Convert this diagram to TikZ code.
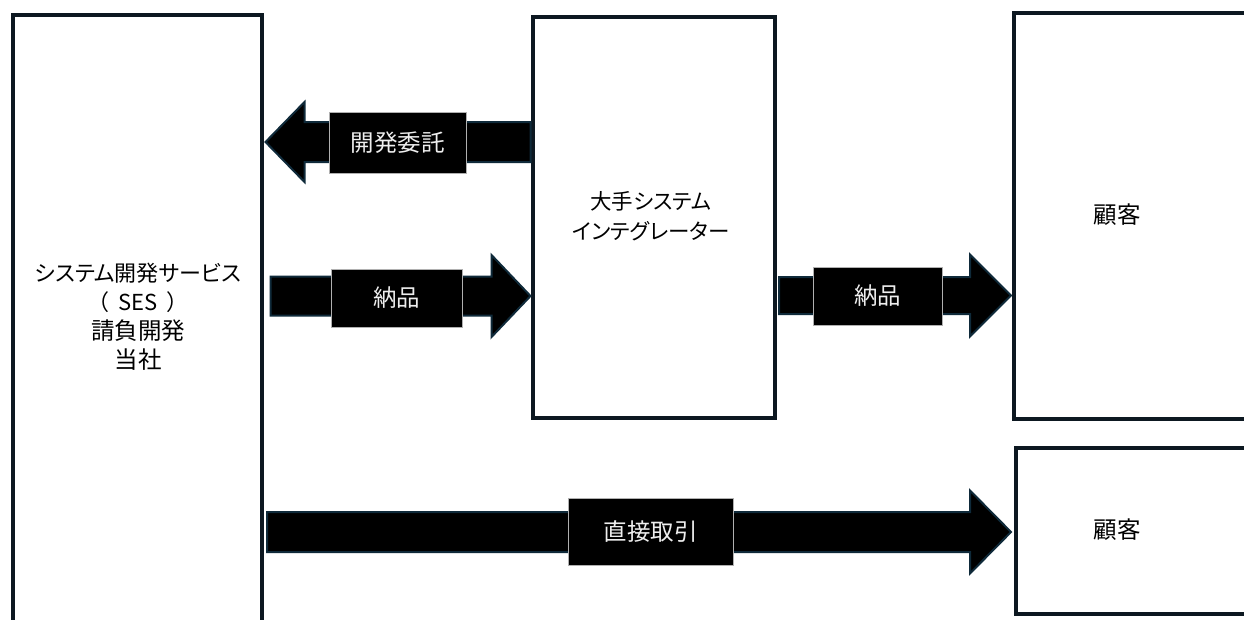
\documentclass[tikz,border=0pt]{standalone}
\usepackage{fontspec}
\setmainfont{Noto Sans CJK JP}[RawFeature=+palt]
\usetikzlibrary{calc}
\definecolor{boxline}{HTML}{0D1821}
\definecolor{arrowline}{HTML}{0F2A3A}
\definecolor{lblline}{HTML}{B0B0B0}
\definecolor{lbltext}{HTML}{EEEEEE}
\newcommand{\bigk}{\fontsize{23.5}{29}\selectfont}
\tikzset{
  box/.style={draw=boxline, line width=4pt, fill=white, inner sep=0pt},
  boxtext/.style={align=center, font=\fontsize{22}{29}\selectfont, text=black, inner sep=0pt},
  blockarrow/.style={draw=arrowline, line width=2pt, fill=black, line join=miter},
  lbl/.style={draw=lblline, line width=0.8pt, fill=black, text=lbltext, inner sep=0pt,
              font=\fontsize{23.5}{28}\selectfont}
}
\newcommand{\blockarr}[5]{% #1 start, #2 tip, #3 shaft half, #4 head half, #5 signed head length
  \draw[blockarrow] ($(#1)+(0,-#3)$) -- ($(#2)+(#5,-#3)$) -- ($(#2)+(#5,-#4)$) -- (#2)
     -- ($(#2)+(#5,#4)$) -- ($(#2)+(#5,#3)$) -- ($(#1)+(0,#3)$) -- cycle;}
\begin{document}
\begin{tikzpicture}[x=1pt,y=-1pt]
\clip (0,0) rectangle (1244,619);
\fill[white] (0,0) rectangle (1244,619);
% boxes
\node[box, anchor=north west, minimum width=249pt, minimum height=700pt] (sys) at (10.5,12.5) {};
\node[box, anchor=north west, minimum width=242pt, minimum height=401.5pt] (si) at (530.5,14.5) {};
\node[box, anchor=north west, minimum width=300pt, minimum height=406.5pt] (cust1) at (1012,10.5) {};
\node[box, anchor=north west, minimum width=300pt, minimum height=166.5pt] (cust2) at (1014,445.5) {};
% box texts
\node[boxtext] (systext) at (138,317) {システム開発サービス\\（\hspace{0.45em}SES\hspace{0.45em}）\\{\bigk 請負開発}\\{\bigk 当社}};
\node[boxtext, font=\fontsize{21.5}{30}\selectfont] (sitext) at (651,216.5) {大手システム\\インテグレーター};
\node[boxtext, font=\bigk] (c1text) at (1117,215) {顧客};
\node[boxtext, font=\bigk] (c2text) at (1117,530) {顧客};
% row coordinates
\coordinate (r1) at (0,142);
\coordinate (r2) at (0,296);
\coordinate (r3) at (0,295.5);
\coordinate (r4) at (0,532);
% arrow 1: 開発委託 (leftwards)
\coordinate (a1s) at (si.west |- r1);
\coordinate (a1t) at ($(sys.east |- r1)+(2,0)$);
\blockarr{a1s}{a1t}{20}{40}{39}
% arrow 2: 納品
\coordinate (a2s) at ($(sys.east |- r2)+(7,0)$);
\coordinate (a2t) at (si.west |- r2);
\blockarr{a2s}{a2t}{19.5}{41}{-39}
% arrow 3: 納品
\coordinate (a3s) at ($(si.east |- r3)+(2.5,0)$);
\coordinate (a3t) at ($(cust1.west |- r3)+(-1,0)$);
\blockarr{a3s}{a3t}{18.5}{41}{-41}
% arrow 4: 直接取引
\coordinate (a4s) at ($(sys.east |- r4)+(3.5,0)$);
\coordinate (a4t) at ($(cust2.west |- r4)+(-3,0)$);
\blockarr{a4s}{a4t}{20}{41.5}{-41}
% labels
\node[lbl, minimum width=137pt, minimum height=61pt] (l1) at (397.5,142.5) {開発委託};
\node[lbl, minimum width=131pt, minimum height=58pt] (l2) at (396.5,298) {納品};
\node[lbl, minimum width=129pt, minimum height=58pt] (l3) at (877.5,296) {納品};
\node[lbl, minimum width=165pt, minimum height=67pt] (l4) at (650.5,531.5) {直接取引};
\end{tikzpicture}
\end{document}
